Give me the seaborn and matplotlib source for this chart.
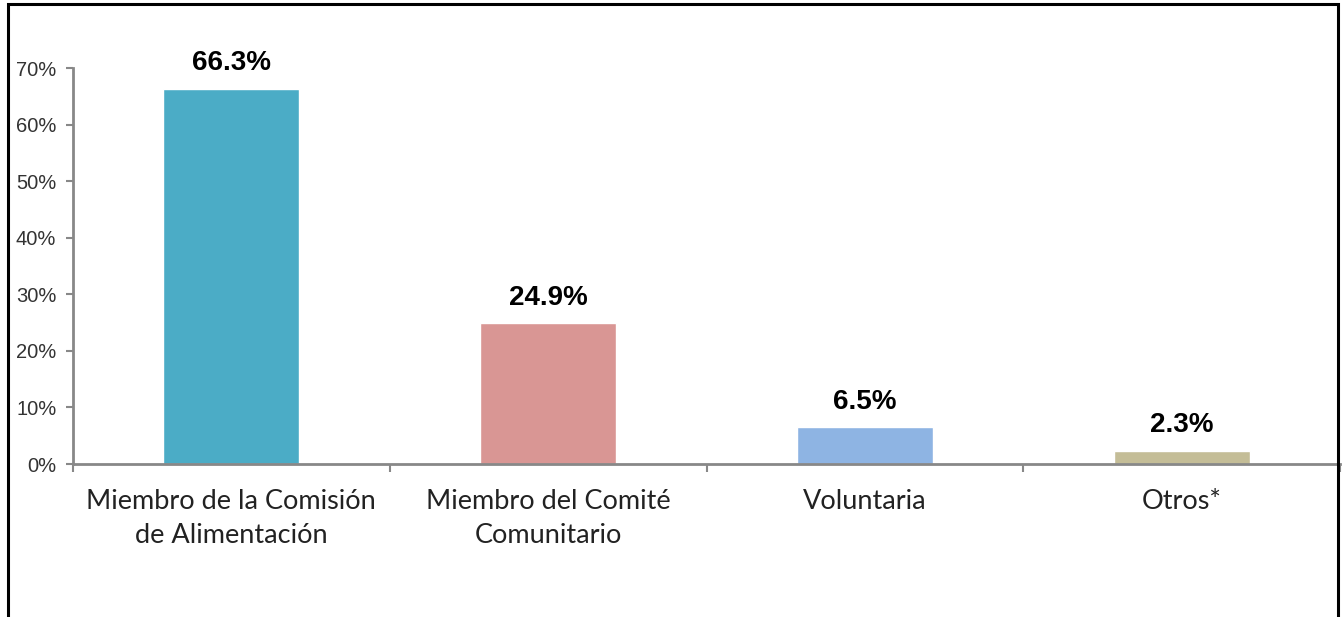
import matplotlib
matplotlib.use("Agg")
import matplotlib.pyplot as plt
import seaborn as sns
from matplotlib.patches import Rectangle

categorias = ["Miembro de la Comisión\nde Alimentación", "Miembro del Comité\nComunitario", "Voluntaria", "Otros*"]
porcentajes = [66.3, 24.9, 6.5, 2.3]
colores = ["#4BACC6", "#D99694", "#8EB4E3", "#C4BD97"]
yticks = [0, 10, 20, 30, 40, 50, 60, 70]

sns.set_style("white")
plt.rcParams["font.family"] = ["Liberation Sans", "DejaVu Sans"]

fig = plt.figure(figsize=(13.43, 6.17), dpi=100)
ax = fig.add_axes([73 / 1343, 1 - 464 / 617, (1340 - 73) / 1343, (464 - 68) / 617])

sns.barplot(x=categorias, y=porcentajes, hue=categorias, palette=colores,
            width=0.43, legend=False, saturation=1, ax=ax)

ax.set_ylim(0, 70)
ax.set_xlim(-0.5, 3.5)
ax.set_yticks(yticks)
ax.set_yticklabels([f"{v}%" for v in yticks], fontsize=14.5, color="#333333")
ax.tick_params(axis="y", left=True, length=5, width=1.5, color="#888888", pad=7)

ax.set_xticks([0, 1, 2, 3])
ax.set_xticklabels(categorias, family=["Lato", "DejaVu Sans"], fontsize=19.5, color="#222222",
                   linespacing=1.45)
ax.tick_params(axis="x", which="major", bottom=True, length=0, pad=18)
ax.set_xticks([-0.5, 0.5, 1.5, 2.5, 3.5], minor=True)
ax.tick_params(axis="x", which="minor", bottom=True, length=6, width=1.5, color="#888888")

for s in ["top", "right"]:
    ax.spines[s].set_visible(False)
for s in ["left", "bottom"]:
    ax.spines[s].set_color("#888888")
    ax.spines[s].set_linewidth(2)

for cont in ax.containers:
    ax.bar_label(cont, fmt="%.1f%%", padding=9, fontsize=20, fontweight="bold", color="#000000")

ax.set_xlabel("")
ax.set_ylabel("")

fig.patches.append(Rectangle((8 / 1343, -0.1), (1338 - 8) / 1343, 1.1 - 4 / 617,
                             transform=fig.transFigure, fill=False, edgecolor="black",
                             linewidth=2.2, zorder=10))

fig.savefig("out.png", dpi=100)
